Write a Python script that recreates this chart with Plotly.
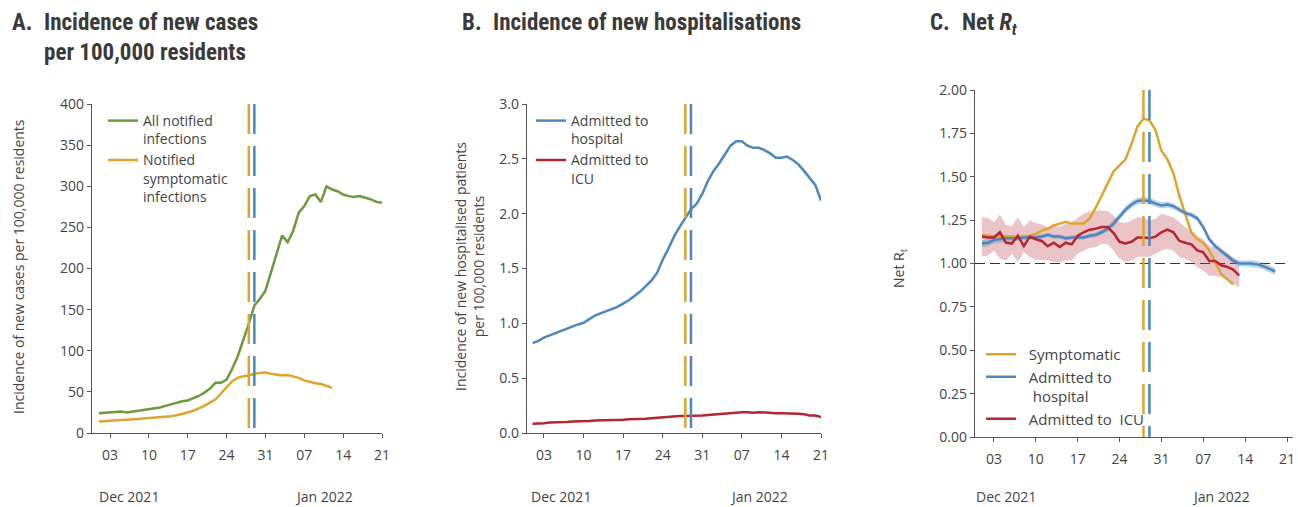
import pandas as pd
import plotly.graph_objects as go

# ---------------- data ----------------
dates_a = pd.date_range("2021-12-01", "2022-01-21", freq="D")
all_notified = [24, 24.5, 25, 25.5, 26, 25, 26, 27, 28, 28.5,
                29.5, 31, 33, 35, 37, 38.5, 39.5, 42, 45, 49,
                54, 61, 61, 65, 78, 93, 112, 133, 155, 163, 173,
                195, 218, 240, 232, 246, 268, 276, 288, 290, 281,
                300, 296, 294, 290, 288, 287, 288, 286, 284, 281, 280]
symptomatic = [14, 14.3, 14.6, 15, 15.5, 16, 16.5, 17, 17.5, 18,
               18.5, 19.5, 20, 20.5, 21.5, 23, 25, 27, 30, 33,
               37, 41, 48, 56, 63, 67, 69, 70, 72, 73, 73.5,
               72, 71, 70, 70.5, 69, 67, 64, 62, 60.5, 59.5, 57.5, 55]

hospital = [0.82, 0.84, 0.87, 0.89, 0.91, 0.93, 0.95, 0.975, 0.99, 1.005,
            1.04, 1.07, 1.09, 1.11, 1.13, 1.15, 1.18, 1.21, 1.25, 1.29,
            1.34, 1.39, 1.46, 1.58, 1.68, 1.79, 1.88, 1.96, 2.04, 2.09, 2.18,
            2.30, 2.39, 2.46, 2.54, 2.62, 2.66, 2.66, 2.62, 2.60, 2.60,
            2.58, 2.55, 2.51, 2.51, 2.52, 2.49, 2.45, 2.39, 2.32, 2.26, 2.12]
icu = [0.085, 0.085, 0.09, 0.095, 0.095, 0.10, 0.10, 0.105, 0.105, 0.11,
       0.11, 0.115, 0.115, 0.12, 0.12, 0.12, 0.12, 0.125, 0.125, 0.13,
       0.13, 0.135, 0.14, 0.145, 0.15, 0.15, 0.155, 0.155, 0.155, 0.155, 0.16,
       0.165, 0.17, 0.17, 0.175, 0.18, 0.185, 0.19, 0.19, 0.185, 0.19,
       0.185, 0.185, 0.18, 0.18, 0.18, 0.175, 0.175, 0.17, 0.16, 0.16, 0.145]

rt_symptomatic = [1.165, 1.16, 1.155, 1.155, 1.155, 1.155, 1.15, 1.15, 1.16, 1.17,
                  1.19, 1.20, 1.22, 1.23, 1.24, 1.23, 1.23, 1.23, 1.26, 1.32,
                  1.39, 1.46, 1.53, 1.565, 1.60, 1.69, 1.79, 1.835, 1.825, 1.77,
                  1.65, 1.60, 1.52, 1.39, 1.29, 1.18, 1.14, 1.12, 1.075, 1.01,
                  0.94, 0.91, 0.88]
rt_hospital = [1.115, 1.12, 1.135, 1.14, 1.145, 1.145, 1.145, 1.15, 1.15, 1.15,
               1.155, 1.165, 1.155, 1.155, 1.145, 1.15, 1.15, 1.15, 1.16, 1.165,
               1.18, 1.20, 1.23, 1.27, 1.31, 1.34, 1.36, 1.365, 1.36, 1.345,
               1.335, 1.34, 1.33, 1.31, 1.29, 1.28, 1.26, 1.21, 1.14, 1.10,
               1.075, 1.045, 1.015, 1.00, 1.00, 1.00, 0.995, 0.985, 0.97, 0.955]
rt_hospital_lo = [1.095, 1.10, 1.115, 1.12, 1.125, 1.127, 1.13, 1.135, 1.138, 1.138,
                  1.143, 1.153, 1.143, 1.143, 1.133, 1.138, 1.138, 1.138, 1.148, 1.152,
                  1.165, 1.183, 1.21, 1.25, 1.29, 1.32, 1.34, 1.345, 1.34, 1.325,
                  1.317, 1.322, 1.313, 1.295, 1.275, 1.265, 1.245, 1.195, 1.125, 1.085,
                  1.06, 1.03, 1.0, 0.983, 0.982, 0.98, 0.975, 0.965, 0.95, 0.935]
rt_hospital_hi = [1.135, 1.14, 1.155, 1.16, 1.165, 1.163, 1.16, 1.165, 1.162, 1.162,
                  1.167, 1.177, 1.167, 1.167, 1.157, 1.162, 1.162, 1.162, 1.172, 1.178,
                  1.195, 1.217, 1.25, 1.29, 1.33, 1.36, 1.38, 1.385, 1.38, 1.365,
                  1.353, 1.358, 1.347, 1.325, 1.305, 1.295, 1.275, 1.225, 1.155, 1.115,
                  1.09, 1.06, 1.03, 1.017, 1.018, 1.02, 1.015, 1.005, 0.99, 0.975]
rt_icu = [1.155, 1.15, 1.15, 1.18, 1.12, 1.115, 1.16, 1.10, 1.155, 1.14,
          1.13, 1.10, 1.12, 1.095, 1.12, 1.11, 1.16, 1.18, 1.195, 1.20,
          1.21, 1.21, 1.175, 1.125, 1.115, 1.125, 1.15, 1.15, 1.145, 1.155,
          1.18, 1.195, 1.18, 1.13, 1.12, 1.11, 1.075, 1.065, 1.015, 1.015,
          0.99, 0.98, 0.965, 0.93]
rt_icu_hi = [1.267, 1.263, 1.238, 1.283, 1.223, 1.215, 1.267, 1.21, 1.248, 1.233,
             1.225, 1.21, 1.225, 1.21, 1.229, 1.238, 1.263, 1.287, 1.30, 1.302,
             1.306, 1.302, 1.277, 1.238, 1.233, 1.248, 1.267, 1.267, 1.248, 1.258,
             1.287, 1.277, 1.267, 1.238, 1.21, 1.19, 1.16, 1.14, 1.10, 1.094,
             1.075, 1.056, 1.037, 1.008]
rt_icu_lo = [1.04, 1.046, 1.075, 1.027, 1.017, 1.056, 1.008, 1.065, 1.037, 1.021,
             1.017, 1.017, 1.008, 1.008, 1.017, 1.017, 1.056, 1.075, 1.09, 1.094,
             1.113, 1.113, 1.075, 1.027, 1.008, 1.017, 1.037, 1.04, 1.037, 1.056,
             1.075, 1.085, 1.075, 1.037, 1.027, 1.008, 0.979, 0.96, 0.93, 0.93,
             0.92, 0.90, 0.883, 0.863]

dates_sym = dates_a[:len(symptomatic)]
dates_rt_sym = pd.date_range("2021-12-01", periods=len(rt_symptomatic), freq="D")
dates_rt_hosp = pd.date_range("2021-12-01", periods=len(rt_hospital), freq="D")
dates_rt_icu = pd.date_range("2021-12-01", periods=len(rt_icu), freq="D")

peak_symptomatic_date = "2021-12-28"
peak_hospital_date = "2021-12-29"
rt_threshold = 1.0

# ---------------- style ----------------
W, H = 1298, 507
GREEN, ORANGE, BLUE, RED = "#6b9b3a", "#dfa42d", "#4a88bf", "#b52630"
TXT = "#444444"
AX = "#555555"
BODY = "Open Sans, Noto Sans, sans-serif"
TITLE = "Liberation Sans Narrow, Roboto Condensed, Roboto, sans-serif"

def px(x):
    return x / W

def py(y):
    return 1 - y / H

fig = go.Figure()

# Panel A
fig.add_trace(go.Scatter(x=dates_a, y=all_notified, mode="lines",
                         line=dict(color=GREEN, width=2.5),
                         name="All notified<br>infections", xaxis="x", yaxis="y", legend="legend"))
fig.add_trace(go.Scatter(x=dates_sym, y=symptomatic, mode="lines",
                         line=dict(color=ORANGE, width=2.5),
                         name="Notified<br>symptomatic<br>infections", xaxis="x", yaxis="y", legend="legend"))
# Panel B
fig.add_trace(go.Scatter(x=dates_a, y=hospital, mode="lines",
                         line=dict(color=BLUE, width=2.5),
                         name="Admitted to<br>hospital", xaxis="x2", yaxis="y2", legend="legend2"))
fig.add_trace(go.Scatter(x=dates_a, y=icu, mode="lines",
                         line=dict(color=RED, width=2.5),
                         name="Admitted to<br>ICU", xaxis="x2", yaxis="y2", legend="legend2"))
# Panel C bands
fig.add_trace(go.Scatter(x=list(dates_rt_icu) + list(dates_rt_icu[::-1]),
                         y=rt_icu_hi + rt_icu_lo[::-1], fill="toself",
                         fillcolor="rgba(190,70,80,0.32)", line=dict(width=0),
                         hoverinfo="skip", showlegend=False, xaxis="x3", yaxis="y3"))
fig.add_trace(go.Scatter(x=list(dates_rt_hosp) + list(dates_rt_hosp[::-1]),
                         y=rt_hospital_hi + rt_hospital_lo[::-1], fill="toself",
                         fillcolor="rgba(74,136,191,0.35)", line=dict(width=0),
                         hoverinfo="skip", showlegend=False, xaxis="x3", yaxis="y3"))
fig.add_trace(go.Scatter(x=dates_rt_sym, y=rt_symptomatic, mode="lines",
                         line=dict(color=ORANGE, width=2.5),
                         name="  Symptomatic", xaxis="x3", yaxis="y3", legend="legend3"))
fig.add_trace(go.Scatter(x=dates_rt_hosp, y=rt_hospital, mode="lines",
                         line=dict(color=BLUE, width=2.5),
                         name="  Admitted to<br>   hospital", xaxis="x3", yaxis="y3", legend="legend3"))
fig.add_trace(go.Scatter(x=dates_rt_icu, y=rt_icu, mode="lines",
                         line=dict(color=RED, width=2.5),
                         name="  Admitted to  ICU", xaxis="x3", yaxis="y3", legend="legend3"))

tickfont = dict(family=BODY, size=14, color=TXT)

def xax(dom, rng, anchor):
    return dict(domain=[px(dom[0]), px(dom[1])], range=rng, anchor=anchor, type="date",
                tickmode="linear", tick0="2021-12-03", dtick=7 * 86400000, tickformat="%d",
                showline=True, linecolor=AX, linewidth=1.3, ticks="outside", ticklen=4,
                tickcolor=AX, showgrid=False, zeroline=False, tickfont=tickfont,
                ticklabelstandoff=5, automargin=False)

def yax(dom, rng, dtick, fmt, anchor):
    return dict(domain=[py(dom[1]), py(dom[0])], range=rng, anchor=anchor, dtick=dtick,
                tickformat=fmt, showline=True, linecolor=AX, linewidth=1.3,
                ticks="outside", ticklen=4, tickcolor=AX, showgrid=False, zeroline=False,
                tickfont=tickfont, automargin=False)

legfont = dict(family=BODY, size=14, color=TXT)

fig.update_layout(
    template="none",
    width=W, height=H, margin=dict(l=0, r=0, t=0, b=0, autoexpand=False),
    paper_bgcolor="white", plot_bgcolor="white",
    xaxis=xax((92, 382), ["2021-11-29 18:00", "2022-01-21"], "y"),
    yaxis=yax((104, 433), [0, 400], 50, "d", "x"),
    xaxis2=xax((527, 821), ["2021-11-30", "2022-01-21"], "y2"),
    yaxis2=yax((104, 433), [0, 3], 0.5, ".1f", "x2"),
    xaxis3=xax((975, 1293), ["2021-11-29 20:00", "2022-01-22"], "y3"),
    yaxis3=yax((90, 437), [0, 2], 0.25, ".2f", "x3"),
    legend=dict(x=px(103), y=py(105), xanchor="left", yanchor="top", font=legfont,
                bgcolor="rgba(0,0,0,0)", valign="top", tracegroupgap=0),
    legend2=dict(x=px(531), y=py(105), xanchor="left", yanchor="top", font=legfont,
                 bgcolor="rgba(0,0,0,0)", valign="top"),
    legend3=dict(x=px(981), y=py(338), xanchor="left", yanchor="top",
                 font=dict(family=BODY, size=15, color=TXT),
                 bgcolor="rgba(0,0,0,0)", valign="top"),
    showlegend=True,
)

# dashed vertical lines and threshold
for xr, yr in (("x", "y"), ("x2", "y2"), ("x3", "y3")):
    for d, c in ((peak_symptomatic_date, ORANGE), (peak_hospital_date, BLUE)):
        fig.add_shape(type="line", xref=xr, yref=f"{yr} domain", x0=d, x1=d, y0=1, y1=0,
                      line=dict(color=c, width=2.5, dash="30px,12px"))
fig.add_shape(type="line", xref="x3", yref="y3", x0="2021-11-29 20:00", x1="2022-01-21",
              y0=rt_threshold, y1=rt_threshold, line=dict(color="#333333", width=1.2, dash="10px,5px"),
              layer="below")

# titles
tfont = dict(family=TITLE, size=23, color="#3a3a3a")
for x0, lab, x1, txt in ((10, "A.", 42, "Incidence of new cases<br>per 100,000 residents"),
                         (460, "B.", 491, "Incidence of new hospitalisations"),
                         (928, "C.", 960, "Net <i>R<sub>t</sub></i>")):
    fig.add_annotation(x=px(x0), y=py(7), xref="paper", yref="paper", xanchor="left", yanchor="top",
                       text=f"<b>{lab}</b>", showarrow=False, font=tfont)
    fig.add_annotation(x=px(x1), y=py(7), xref="paper", yref="paper", xanchor="left", yanchor="top",
                       text=f"<b>{txt}</b>", showarrow=False, font=tfont, align="left")

# axis titles
afont = dict(family=BODY, size=14, color=TXT)
fig.add_annotation(x=px(18), y=py(267), xref="paper", yref="paper", textangle=-90,
                   xanchor="center", yanchor="middle",
                   text="Incidence of new cases per 100,000 residents", showarrow=False, font=afont)
fig.add_annotation(x=px(469), y=py(267), xref="paper", yref="paper", textangle=-90,
                   xanchor="center", yanchor="middle",
                   text="Incidence of new hospitalised patients<br>per 100,000 residents",
                   showarrow=False, font=afont)
fig.add_annotation(x=px(899), y=py(268), xref="paper", yref="paper", textangle=-90,
                   xanchor="center", yanchor="middle",
                   text="Net R<sub>t</sub>", showarrow=False, font=afont)

# month labels
for xr, dec, jan in (("x", "2021-12-06 12:00", "2022-01-10 12:00"),
                     ("x2", "2021-12-06", "2022-01-10"),
                     ("x3", "2021-12-05", "2022-01-10")):
    for d, t in ((dec, "Dec 2021"), (jan, "Jan 2022")):
        fig.add_annotation(x=d, y=py(496), xref=xr, yref="paper", text=t, showarrow=False,
                           xanchor="center", yanchor="middle",
                           font=dict(family=BODY, size=14, color=TXT))

# remove the browser's default page margin so the figure fills the window exactly
fig.write_html("out.html", config={"displayModeBar": False},
               post_script="document.body.style.margin='0px';document.body.style.overflow='hidden';")
